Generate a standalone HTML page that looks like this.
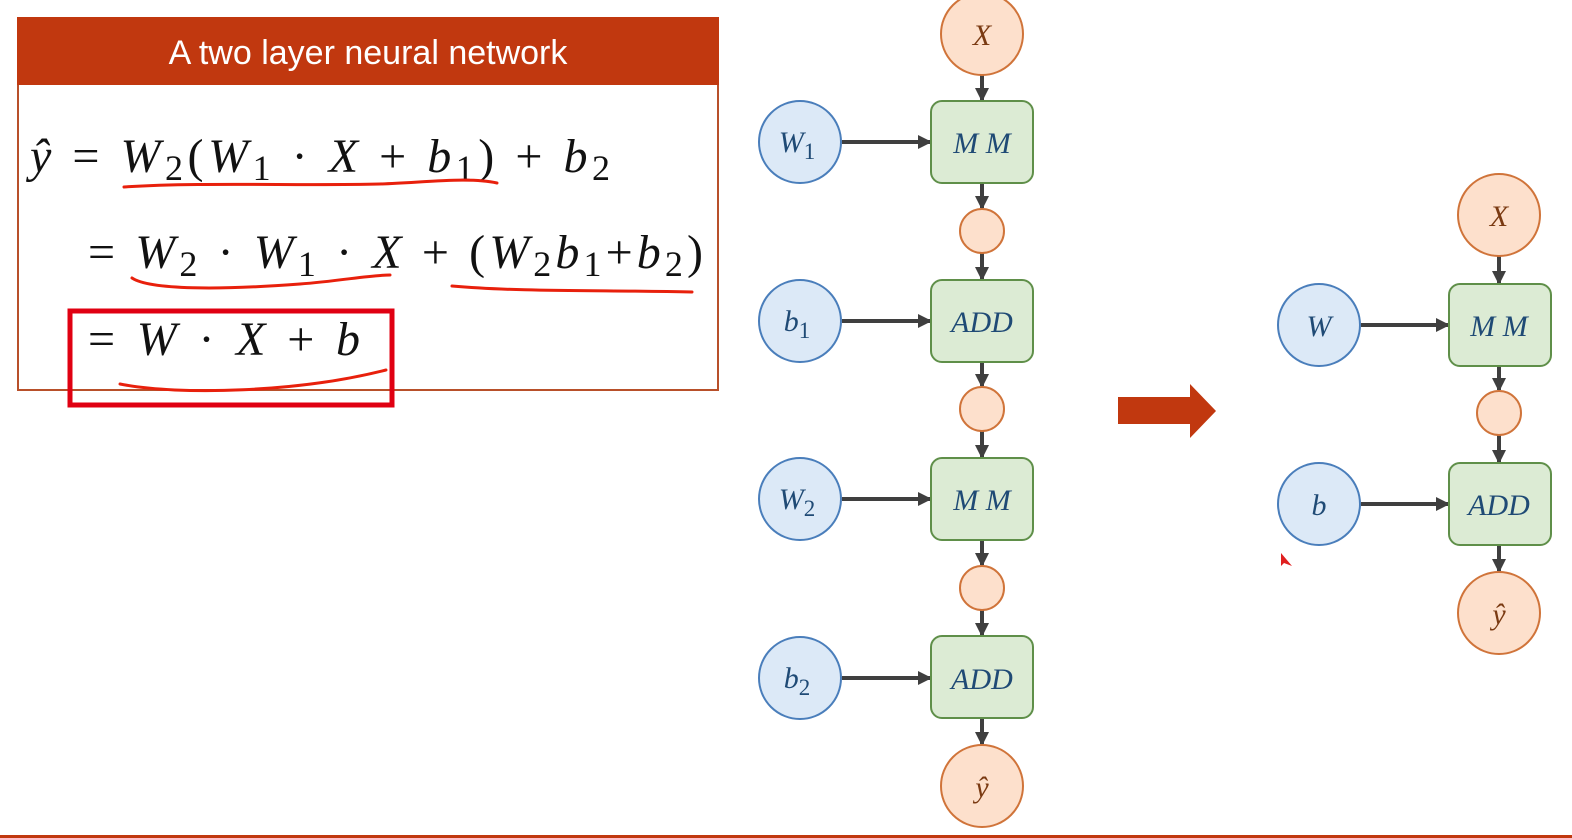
<!DOCTYPE html>
<html><head><meta charset="utf-8"><style>
html,body{margin:0;padding:0;background:#fff;}
svg{display:block;}
.it{font-family:"Liberation Serif",serif;font-style:italic;}
.up{font-family:"Liberation Serif",serif;font-style:normal;}
</style></head><body>
<svg width="1572" height="838" viewBox="0 0 1572 838" xmlns="http://www.w3.org/2000/svg">
<defs>
<marker id="ah" markerWidth="14" markerHeight="14" refX="12" refY="7" orient="auto" markerUnits="userSpaceOnUse">
<path d="M0,0 L14,7 L0,14 z" fill="#3f3f3f"/></marker>
</defs>
<rect x="18" y="18" width="700" height="372" fill="#fff" stroke="#b8502a" stroke-width="2"/>
<rect x="17" y="17" width="702" height="68" fill="#c1380f"/>
<text x="368" y="64" text-anchor="middle" font-family="'Liberation Sans',sans-serif" font-size="34" fill="#fff">A two layer neural network</text>

<g font-size="48" fill="#111">
<text y="172" textLength="580" lengthAdjust="spacing" x="30"><tspan class="it">ŷ</tspan><tspan class="up"> = </tspan><tspan class="it">W</tspan><tspan class="up" font-size="36" dy="8">2</tspan><tspan class="up" dy="-8">(</tspan><tspan class="it">W</tspan><tspan class="up" font-size="36" dy="8">1</tspan><tspan class="up" dy="-8"> · </tspan><tspan class="it">X</tspan><tspan class="up"> + </tspan><tspan class="it">b</tspan><tspan class="up" font-size="36" dy="8">1</tspan><tspan class="up" dy="-8">) + </tspan><tspan class="it">b</tspan><tspan class="up" font-size="36" dy="8">2</tspan></text>
<text y="268" x="88" textLength="615" lengthAdjust="spacing"><tspan class="up">= </tspan><tspan class="it">W</tspan><tspan class="up" font-size="36" dy="8">2</tspan><tspan class="up" dy="-8"> · </tspan><tspan class="it">W</tspan><tspan class="up" font-size="36" dy="8">1</tspan><tspan class="up" dy="-8"> · </tspan><tspan class="it">X</tspan><tspan class="up"> + (</tspan><tspan class="it">W</tspan><tspan class="up" font-size="36" dy="8">2</tspan><tspan class="it" dy="-8">b</tspan><tspan class="up" font-size="36" dy="8">1</tspan><tspan class="up" dy="-8">+</tspan><tspan class="it">b</tspan><tspan class="up" font-size="36" dy="8">2</tspan><tspan class="up" dy="-8">)</tspan></text>
<text y="355" x="88" textLength="272" lengthAdjust="spacing"><tspan class="up">= </tspan><tspan class="it">W</tspan><tspan class="up"> · </tspan><tspan class="it">X</tspan><tspan class="up"> + </tspan><tspan class="it">b</tspan></text>
</g>
<g stroke="#e8200c" stroke-width="3" fill="none" stroke-linecap="round">
<path d="M124,187 C200,182 300,186 380,184 C430,182 470,177 497,183"/>
<path d="M132,278 C150,290 220,290 300,284 C340,281 370,275 390,275"/>
<path d="M452,286 C520,292 600,290 692,292"/>
<path d="M120,384 C180,396 300,392 386,370"/>
</g>
<rect x="70" y="311" width="322" height="94" fill="none" stroke="#e00012" stroke-width="5"/>

<g stroke="#3f3f3f" stroke-width="4" marker-end="url(#ah)">
<line x1="982" y1="75" x2="982" y2="100"/>
<line x1="982" y1="183" x2="982" y2="208"/>
<line x1="982" y1="253" x2="982" y2="279"/>
<line x1="982" y1="362" x2="982" y2="386"/>
<line x1="982" y1="431" x2="982" y2="457"/>
<line x1="982" y1="540" x2="982" y2="565"/>
<line x1="982" y1="610" x2="982" y2="635"/>
<line x1="982" y1="718" x2="982" y2="744"/>
<line x1="842" y1="142" x2="930" y2="142"/>
<line x1="842" y1="321" x2="930" y2="321"/>
<line x1="842" y1="499" x2="930" y2="499"/>
<line x1="842" y1="678" x2="930" y2="678"/>
<line x1="1499" y1="256" x2="1499" y2="283"/>
<line x1="1499" y1="366" x2="1499" y2="390"/>
<line x1="1499" y1="435" x2="1499" y2="462"/>
<line x1="1499" y1="545" x2="1499" y2="571"/>
<line x1="1361" y1="325" x2="1448" y2="325"/>
<line x1="1361" y1="504" x2="1448" y2="504"/>
</g>
<g fill="#fde0cc" stroke="#d0743a" stroke-width="2">
<circle cx="982" cy="34" r="41"/>
<circle cx="982" cy="231" r="22"/>
<circle cx="982" cy="409" r="22"/>
<circle cx="982" cy="588" r="22"/>
<circle cx="982" cy="786" r="41"/>
<circle cx="1499" cy="215" r="41"/>
<circle cx="1499" cy="413" r="22"/>
<circle cx="1499" cy="613" r="41"/>
</g>
<g fill="#dce9f7" stroke="#4a7ebb" stroke-width="2">
<circle cx="800" cy="142" r="41"/>
<circle cx="800" cy="321" r="41"/>
<circle cx="800" cy="499" r="41"/>
<circle cx="800" cy="678" r="41"/>
<circle cx="1319" cy="325" r="41"/>
<circle cx="1319" cy="504" r="41"/>
</g>
<g fill="#dcebd4" stroke="#5f8f49" stroke-width="2">
<rect x="931" y="101" width="102" height="82" rx="11"/>
<rect x="931" y="280" width="102" height="82" rx="11"/>
<rect x="931" y="458" width="102" height="82" rx="11"/>
<rect x="931" y="636" width="102" height="82" rx="11"/>
<rect x="1449" y="284" width="102" height="82" rx="11"/>
<rect x="1449" y="463" width="102" height="82" rx="11"/>
</g>
<g class="it" font-size="30" text-anchor="middle">
<text x="982" y="45" fill="#7a3a12">X</text>
<text x="982" y="797" fill="#7a3a12">ŷ</text>
<text x="1499" y="226" fill="#7a3a12">X</text>
<text x="1499" y="624" fill="#7a3a12">ŷ</text>
<g fill="#1f4a75">
<text x="982" y="153">M M</text>
<text x="982" y="332">ADD</text>
<text x="982" y="510">M M</text>
<text x="982" y="689">ADD</text>
<text x="1499" y="336">M M</text>
<text x="1499" y="515">ADD</text>
<text x="1319" y="336">W</text>
<text x="1319" y="515">b</text>
<text x="797" y="152">W<tspan class="up" font-size="23" dy="7">1</tspan></text>
<text x="797" y="331">b<tspan class="up" font-size="23" dy="7">1</tspan></text>
<text x="797" y="509">W<tspan class="up" font-size="23" dy="7">2</tspan></text>
<text x="797" y="688">b<tspan class="up" font-size="23" dy="7">2</tspan></text>
</g>
</g>
<path d="M1118,397 L1190,397 L1190,384 L1216,411 L1190,438 L1190,424 L1118,424 Z" fill="#c1380f"/>
<path d="M1281,553 L1281,566 L1284,563 L1292,566 Z" fill="#e02020"/>
<rect x="0" y="835" width="1572" height="3" fill="#c1380f"/>
</svg>
</body></html>
